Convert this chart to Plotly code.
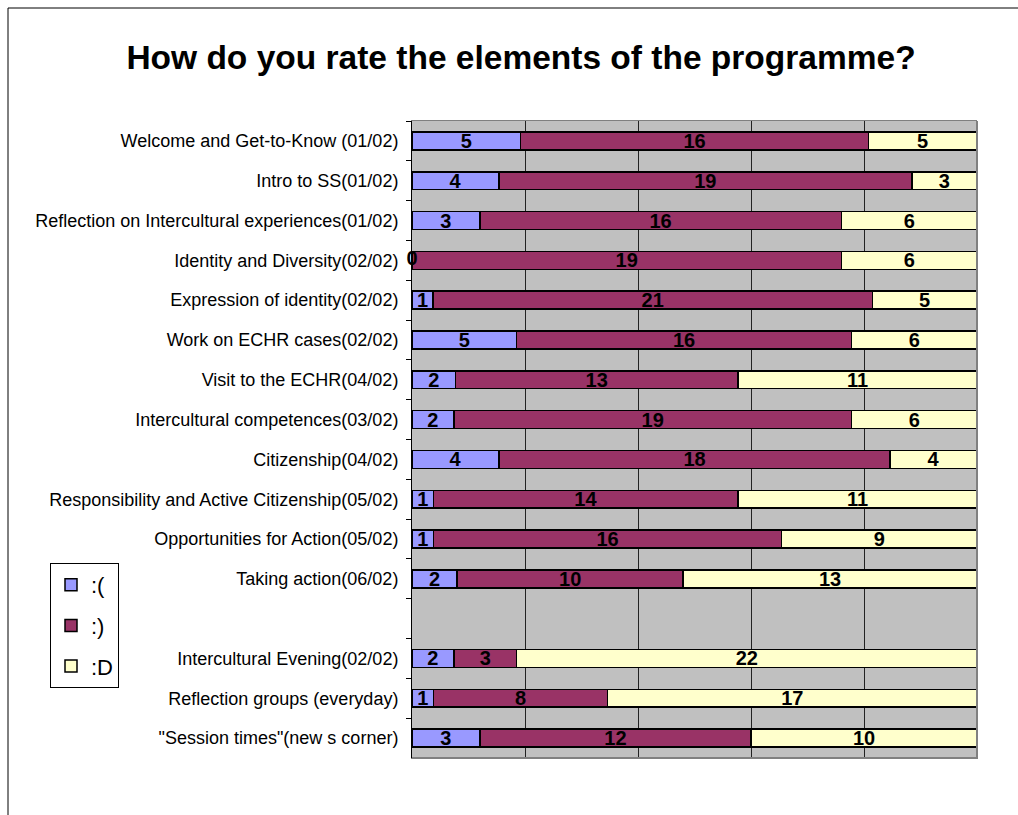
import plotly.graph_objects as go

# Programme sessions, top to bottom (blank slot separates the two groups)
sessions = [
    "Welcome and Get-to-Know (01/02)",
    "Intro to SS(01/02)",
    "Reflection on Intercultural experiences(01/02)",
    "Identity and Diversity(02/02)",
    "Expression of identity(02/02)",
    "Work on ECHR cases(02/02)",
    "Visit to the ECHR(04/02)",
    "Intercultural competences(03/02)",
    "Citizenship(04/02)",
    "Responsibility and Active Citizenship(05/02)",
    "Opportunities for Action(05/02)",
    "Taking action(06/02)",
    " ",
    "Intercultural Evening(02/02)",
    "Reflection groups (everyday)",
    "\"Session times\"(new s corner)",
]

# Vote counts per rating (None for the blank separator row)
sad = [5, 4, 3, 0, 1, 5, 2, 2, 4, 1, 1, 2, None, 2, 1, 3]
happy = [16, 19, 16, 19, 21, 16, 13, 19, 18, 14, 16, 10, None, 3, 8, 12]
very_happy = [5, 3, 6, 6, 5, 6, 11, 6, 4, 11, 9, 13, None, 22, 17, 10]

series = [
    (":(", sad, "#9999FF"),
    (":)", happy, "#993366"),
    (":D", very_happy, "#FFFFCC"),
]

FONT = "Liberation Sans, Arial, sans-serif"
LABEL_FONT = dict(family=FONT, size=20, color="black", weight="bold")

# Plot area in pixels
W, H = 1018, 815
L, R, T, B = 412, 977, 121, 758
pw, ph = R - L, B - T


def px_x(p):
    return (p - L) / pw


def px_y(p):
    return (B - p) / ph


fig = go.Figure()
for name, vals, color in series:
    fig.add_trace(go.Bar(
        name=name,
        legendgroup=name,
        y=sessions,
        x=vals,
        orientation="h",
        marker=dict(color=color, line=dict(color="black", width=1.5)),
        text=[("" if v is None else str(v)) for v in vals],
        texttemplate="%{text}",
        textposition="inside",
        insidetextanchor="middle",
        textangle=0,
        constraintext="none",
        textfont=LABEL_FONT,
        hoverinfo="skip",
    ))

# Zero counts get their label at the start of the bar
zero_y = [s for s, v in zip(sessions, sad) if v == 0]
fig.add_trace(go.Scatter(
    x=[0] * len(zero_y),
    y=zero_y,
    mode="text",
    text=["0"] * len(zero_y),
    textposition="middle center",
    textfont=LABEL_FONT,
    showlegend=False,
    hoverinfo="skip",
    cliponaxis=False,
))

fig.update_layout(
    width=W,
    height=H,
    barmode="stack",
    barnorm="percent",
    bargap=0.55,
    paper_bgcolor="white",
    plot_bgcolor="#C0C0C0",
    margin=dict(l=L, r=W - R, t=T, b=H - B, pad=0),
    font=dict(family=FONT, color="black"),
    title=dict(
        text="<b>How do you rate the elements of the programme?</b>",
        x=521 / W,
        xanchor="center",
        y=1 - 57 / H,
        yanchor="middle",
        font=dict(family=FONT, size=33.5, color="black"),
    ),
    legend=dict(
        x=px_x(50),
        y=px_y(563),
        xanchor="left",
        yanchor="top",
        bgcolor="white",
        bordercolor="black",
        borderwidth=1,
        font=dict(family=FONT, size=22, color="black"),
        traceorder="grouped",
        tracegroupgap=9,
        itemwidth=30,
    ),
    xaxis=dict(
        range=[0, 100],
        dtick=20,
        showticklabels=False,
        showgrid=True,
        gridcolor="#222222",
        gridwidth=1,
        zeroline=False,
        showline=True,
        linecolor="#808080",
        linewidth=1,
        mirror=True,
        ticks="",
        fixedrange=True,
    ),
    yaxis=dict(
        categoryorder="array",
        categoryarray=sessions,
        autorange="reversed",
        tickson="boundaries",
        ticks="outside",
        ticklen=5,
        tickcolor="black",
        showgrid=False,
        showline=True,
        linecolor="black",
        linewidth=1,
        tickfont=dict(family=FONT, size=18, color="black"),
        ticklabelstandoff=9,
        fixedrange=True,
    ),
    shapes=[
        # Frame around the whole chart
        dict(
            type="rect",
            xref="paper", yref="paper",
            x0=px_x(8), x1=px_x(1040),
            y0=px_y(840), y1=px_y(8),
            line=dict(color="black", width=1),
            fillcolor="rgba(0,0,0,0)",
            layer="below",
        ),
        # Darker right and bottom edges of the plot area
        dict(
            type="path",
            xref="paper", yref="paper",
            path=f"M {px_x(977)} {px_y(121)} L {px_x(977)} {px_y(758)} L {px_x(412)} {px_y(758)}",
            line=dict(color="#808080", width=2),
        ),
    ],
)

fig.write_html("out.html")
